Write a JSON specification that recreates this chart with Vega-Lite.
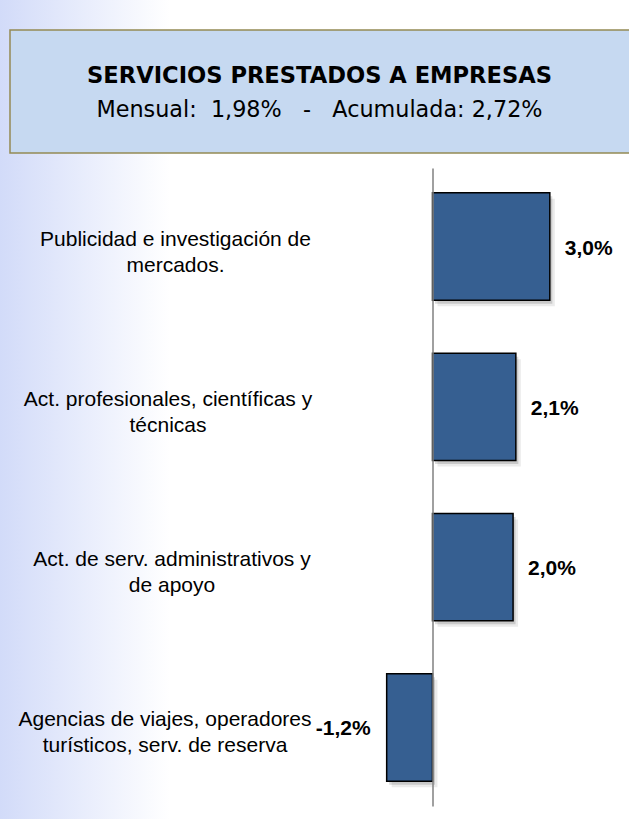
{
  "$schema": "https://vega.github.io/schema/vega-lite/v6.json",
  "width": 629,
  "height": 819,
  "autosize": {"type": "none"},
  "padding": 0,
  "background": "#FFFFFF",
  "config": {
    "view": {"stroke": null},
    "locale": {"number": {"decimal": ",", "thousands": ".", "grouping": [3], "currency": ["", " €"], "minus": "-"}}
  },
  "resolve": {"scale": {"y": "independent"}},
  "layer": [
    {
      "data": {"values": [{"part": "fondo"}]},
      "mark": {
        "type": "rect",
        "color": {
          "gradient": "linear", "x1": 0, "x2": 1, "y1": 0, "y2": 0,
          "stops": [
            {"offset": 0, "color": "#D2DBF9"},
            {"offset": 0.27, "color": "#FFFFFF"},
            {"offset": 1, "color": "#FFFFFF"}
          ]
        }
      },
      "encoding": {
        "x": {"datum": -0.10949, "type": "quantitative", "scale": {"domain": [-0.10949, 0.049747], "nice": false, "zero": false}, "axis": null},
        "x2": {"datum": 0.049747}
      }
    },
    {
      "data": {"values": [{"part": "caja"}]},
      "mark": {"type": "rect", "fill": "#C6D9F1", "stroke": "#948A54", "strokeWidth": 1.5},
      "encoding": {
        "x": {"datum": -0.10696, "type": "quantitative"},
        "x2": {"datum": 0.052},
        "y": {"datum": 30, "type": "quantitative", "scale": {"domain": [0, 819], "reverse": true, "nice": false, "zero": false}, "axis": null},
        "y2": {"datum": 153}
      }
    },
    {
      "data": {"values": [{"t": "SERVICIOS PRESTADOS A EMPRESAS"}]},
      "mark": {"type": "text", "font": "DejaVu Sans", "fontSize": 22.6, "fontWeight": "bold", "color": "#000000", "align": "center", "baseline": "middle"},
      "encoding": {
        "x": {"datum": -0.0286, "type": "quantitative"},
        "y": {"datum": 75.5, "type": "quantitative", "scale": {"domain": [0, 819], "reverse": true, "nice": false, "zero": false}, "axis": null},
        "text": {"field": "t"}
      }
    },
    {
      "data": {"values": [{"t": "Mensual:\u00a0 1,98%\u00a0\u00a0 -\u00a0\u00a0 Acumulada: 2,72%"}]},
      "mark": {"type": "text", "font": "DejaVu Sans", "fontSize": 22.3, "color": "#000000", "align": "center", "baseline": "middle"},
      "encoding": {
        "x": {"datum": -0.0286, "type": "quantitative"},
        "y": {"datum": 110, "type": "quantitative", "scale": {"domain": [0, 819], "reverse": true, "nice": false, "zero": false}, "axis": null},
        "text": {"field": "t"}
      }
    },
    {
      "data": {
        "values": [
          {"cat": "Publicidad e investigación de|mercados.", "v": 0.0297},
          {"cat": "Act. profesionales, científicas y|técnicas", "v": 0.0211},
          {"cat": "Act. de serv. administrativos y|de apoyo", "v": 0.0204},
          {"cat": "Agencias de viajes, operadores|turísticos, serv. de reserva", "v": -0.0116}
        ]
      },
      "encoding": {
        "y": {
          "field": "cat", "type": "nominal", "sort": null,
          "scale": {"range": [168, 806], "paddingInner": 0.33, "paddingOuter": 0.155},
          "axis": {
            "title": null, "ticks": false, "grid": false, "labels": false, "offset": -432.5,
            "domainColor": "#808080", "domainWidth": 1.5, "zindex": 1
          }
        },
        "x": {"field": "v", "type": "quantitative"}
      },
      "layer": [
        {"mark": {"type": "bar", "fill": "#000000", "opacity": 0.08, "xOffset": 5, "yOffset": 6}},
        {"mark": {"type": "bar", "fill": "#000000", "opacity": 0.14, "xOffset": 2.5, "yOffset": 3.5}},
        {"mark": {"type": "bar", "fill": "#365F91", "stroke": "#000000", "strokeWidth": 1.5}},
        {
          "mark": {
            "type": "text", "align": "center", "baseline": "middle", "lineBreak": "|", "lineHeight": 26,
            "font": "Liberation Sans", "fontSize": 21, "color": "#000000", "dy": -7,
            "dx": {"expr": "indexof(datum.cat, 'Publicidad') == 0 ? 3.5 : indexof(datum.cat, 'Act. prof') == 0 ? -4 : indexof(datum.cat, 'Agencias') == 0 ? -7 : 0"}
          },
          "encoding": {
            "x": {"datum": -0.065946, "type": "quantitative"},
            "text": {"field": "cat"}
          }
        },
        {
          "transform": [{"filter": "datum.v >= 0"}],
          "mark": {"type": "text", "align": "left", "dx": 15, "dy": 2, "baseline": "middle", "font": "Liberation Sans", "fontSize": 21, "fontWeight": "bold", "color": "#000000"},
          "encoding": {"text": {"field": "v", "type": "quantitative", "format": ".1%"}}
        },
        {
          "transform": [{"filter": "datum.v < 0"}],
          "mark": {"type": "text", "align": "right", "dx": -16, "dy": 2, "baseline": "middle", "font": "Liberation Sans", "fontSize": 21, "fontWeight": "bold", "color": "#000000"},
          "encoding": {"text": {"field": "v", "type": "quantitative", "format": ".1%"}}
        }
      ]
    }
  ]
}
